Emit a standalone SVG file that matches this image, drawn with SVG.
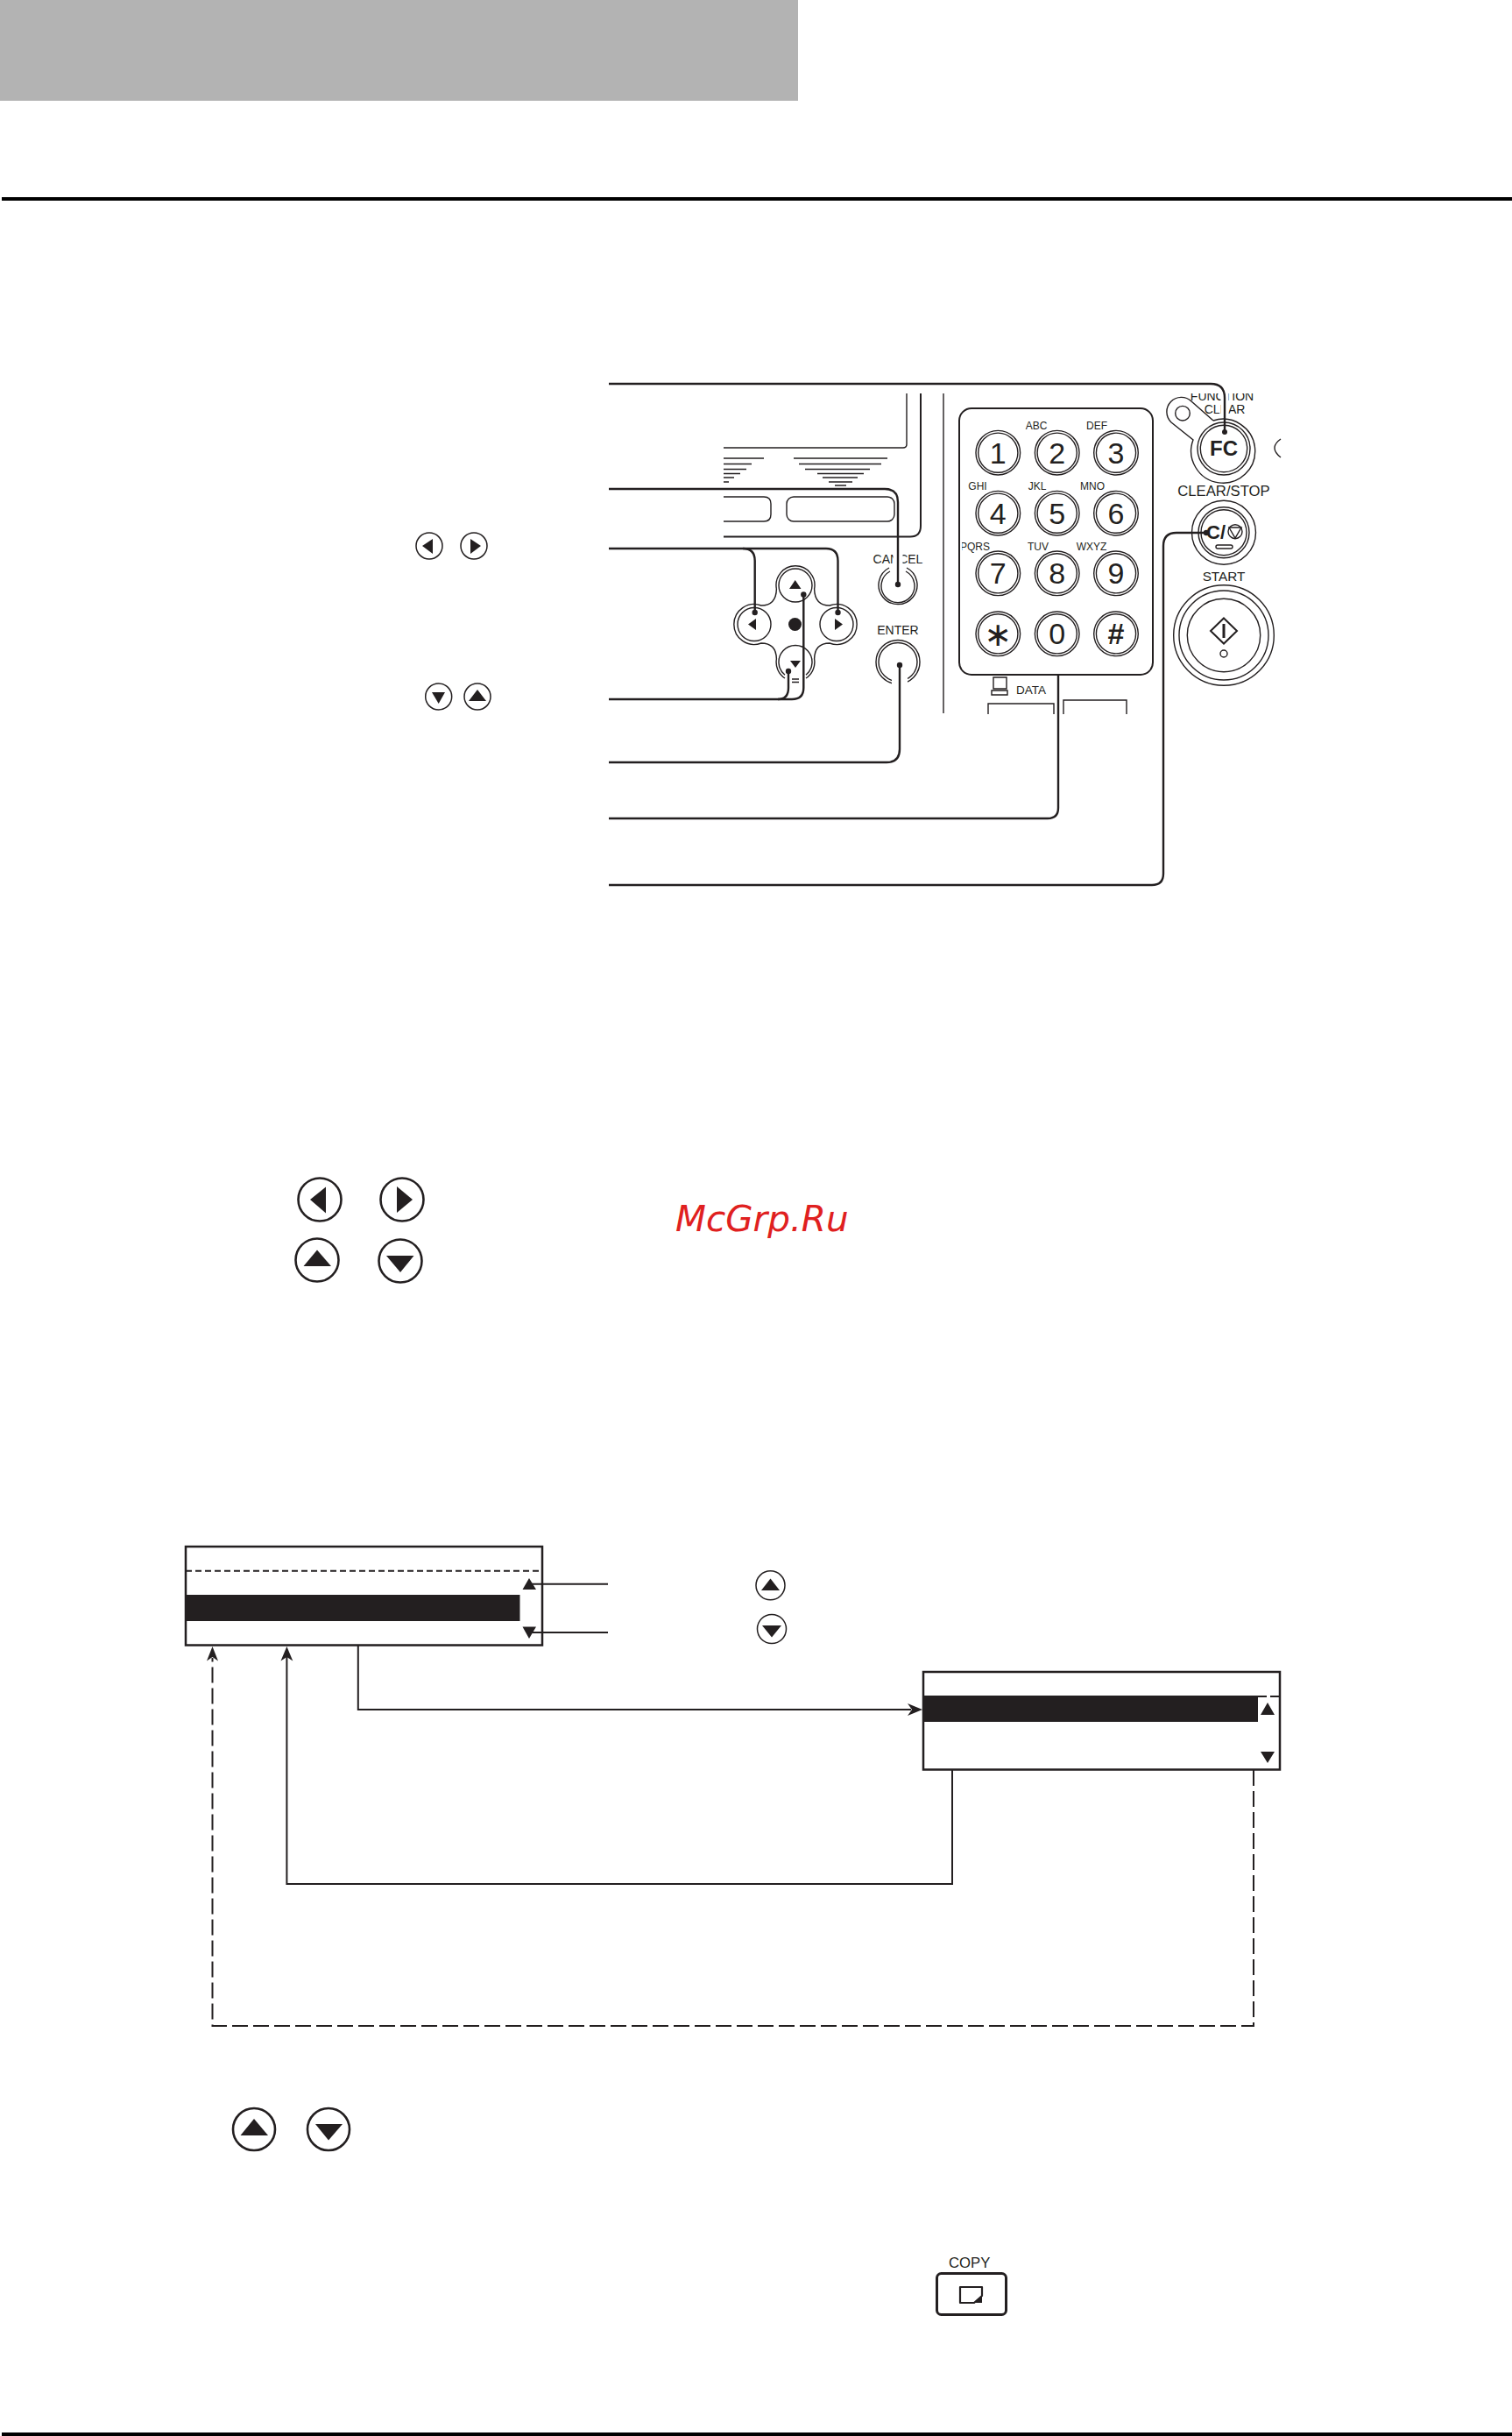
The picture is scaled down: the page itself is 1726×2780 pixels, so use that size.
<svg xmlns="http://www.w3.org/2000/svg" width="1726" height="2780" viewBox="0 0 1726 2780">
<style>
.l{fill:none;stroke:#231f20;stroke-width:2}
.t{fill:none;stroke:#231f20;stroke-width:1.4}
.c{fill:none;stroke:#231f20;stroke-width:2.4}
.f{fill:#231f20;stroke:none}
.o{fill:#fff;stroke:#231f20;stroke-width:1.5}
text{font-family:"Liberation Sans",Arial,sans-serif;fill:#231f20;text-anchor:middle}
.s{font-size:12px}
.d{font-size:34px}
.ic{fill:#fff;stroke:#231f20;stroke-width:2.6}
.dash{fill:none;stroke:#231f20;stroke-width:2;stroke-dasharray:18 6}
</style>
<defs>
<clipPath id="cpPqrs"><rect x="1098" y="600" width="60" height="40"/></clipPath>
<clipPath id="cpFn"><rect x="1340" y="449" width="120" height="30"/></clipPath>
<g id="key"><circle r="25.3" class="t"/><circle r="22.6" class="t"/></g>
</defs>
<rect id="header" x="0" y="0" width="911" height="115" fill="#b3b3b3"/>
<rect id="rule-top" x="2" y="225" width="1724" height="4" fill="#000"/>
<rect id="rule-bottom" x="2" y="2776" width="1724" height="4" fill="#000"/>

<g id="legend-lr">
<circle cx="490" cy="623" r="15" class="o"/><path class="f" d="M482 623L494 615V632Z"/>
<circle cx="541" cy="623" r="15" class="o"/><path class="f" d="M549 623L537 615V632Z"/>
</g>
<g id="legend-ud">
<circle cx="500.700" cy="795" r="15" class="o"/><path class="f" d="M493 790H508L500.700 803Z"/>
<circle cx="545" cy="795" r="15" class="o"/><path class="f" d="M545 787L555 800H535Z"/>
</g>

<g id="panel">
<path class="t" d="M1035 449V507Q1035 511 1031 511H826"/>
<path class="l" d="M1051 449V600Q1051 612.500 1039 612.500H826"/>
<path class="t" d="M1077 449V814"/>
<path class="t" d="M826 523H872M826 529.500H858M826 535.500H852M826 540.500H845M826 545H838M826 550H832"/>
<path class="t" d="M906 523H1013M912 529.500H1006M919 535.500H993M933 540.500H986M939 545H979M946 550H973M953 554H966"/>
<path class="t" d="M826 567H872Q880 567 880 575V587Q880 595 872 595H826"/>
<rect class="t" x="898" y="567" width="123" height="28" rx="8"/>
</g>

<g id="dpad">
<path class="t" d="M886.400 672A22 22 0 1 1 929.600 672Q930 691 947 691A23 23 0 1 1 947 734Q930 734 929.600 752A22 22 0 0 1 920 774M896 774A22 22 0 0 1 886.400 752Q886 734 869 734A23 23 0 1 1 869 691Q886 691 886.400 672"/>
<circle cx="908" cy="668" r="19" class="t"/>
<circle cx="861" cy="712.500" r="19" class="t"/>
<circle cx="955" cy="712.500" r="19" class="t"/>
<path class="t" d="M896 770.300A19 19 0 1 1 920 770.300"/>
<path class="t" d="M904 775H912M904 778.500H912"/>
<path class="f" d="M907.700 662L914.500 672H901ZM902 754H914L908 762ZM854 712.500L863 706V719ZM962 712.500L953 706V719Z"/>
<circle cx="907.500" cy="712.500" r="7.500" class="f"/>
</g>

<g id="cancel-key">
<text x="1025" y="643" style="font-size:14px">CANCEL</text>
<rect x="1019.500" y="628" width="11" height="18" fill="#fff"/>
<path class="t" d="M1015 648A22 22 0 1 0 1035 648"/>
<path class="t" d="M1016 652A19 19 0 1 0 1034 652"/>
</g>
<g id="enter-key">
<text x="1025" y="724" style="font-size:14px">ENTER</text>
<circle cx="1025" cy="755.500" r="25" class="t"/>
<circle cx="1025" cy="755.500" r="22" class="t"/>
<rect x="1018" y="770" width="18" height="14" fill="#fff"/>
</g>

<g id="keypad">
<rect x="1095" y="466" width="221" height="304" rx="14" class="l"/>
<use href="#key" x="1139.300" y="516.700"/><text class="d" x="1139.300" y="528.500">1</text>
<use href="#key" x="1206.700" y="516.700"/><text class="d" x="1206.700" y="528.500">2</text>
<use href="#key" x="1274" y="516.700"/><text class="d" x="1274" y="528.500">3</text>
<use href="#key" x="1139.300" y="585.700"/><text class="d" x="1139.300" y="597.500">4</text>
<use href="#key" x="1206.700" y="585.700"/><text class="d" x="1206.700" y="597.500">5</text>
<use href="#key" x="1274" y="585.700"/><text class="d" x="1274" y="597.500">6</text>
<use href="#key" x="1139.300" y="654.300"/><text class="d" x="1139.300" y="666">7</text>
<use href="#key" x="1206.700" y="654.300"/><text class="d" x="1206.700" y="666">8</text>
<use href="#key" x="1274" y="654.300"/><text class="d" x="1274" y="666">9</text>
<use href="#key" x="1139.300" y="723.300"/><text class="d" x="1139.300" y="737" style="font-size:38px;font-family:'DejaVu Sans',sans-serif">∗</text>
<use href="#key" x="1206.700" y="723.300"/><text class="d" x="1206.700" y="735">0</text>
<use href="#key" x="1274" y="723.300"/><text class="d" x="1274" y="735" style="font-weight:700">#</text>
<text class="s" x="1183" y="490">ABC</text><text class="s" x="1252" y="490">DEF</text>
<text class="s" x="1116" y="559">GHI</text><text class="s" x="1184" y="559">JKL</text><text class="s" x="1247" y="559">MNO</text>
<text class="s" x="1113" y="628" clip-path="url(#cpPqrs)">PQRS</text><text class="s" x="1185" y="628">TUV</text><text class="s" x="1246" y="628">WXYZ</text>
</g>

<g id="data-port">
<path class="t" d="M1134 773H1149V786H1134ZM1132 788H1150V793H1132Z"/>
<text x="1160" y="792" style="font-size:13.500px;text-anchor:start">DATA</text>
<path class="t" d="M1128 815V803H1203V815M1214 815V799H1286V815"/>
</g>

<g id="fc-key">
<text x="1395" y="457" style="font-size:14px" clip-path="url(#cpFn)">FUNCTION</text>
<text x="1398" y="472" style="font-size:14px">CLEAR</text>
<rect x="1393.500" y="449" width="9" height="24" fill="#fff"/>
<path class="t" d="M1385 480L1360 458A16.500 16.500 0 0 0 1337 482L1362 502A36.500 36.500 0 1 0 1385 480"/>
<circle cx="1350" cy="471.700" r="8.300" class="t"/>
<circle cx="1397" cy="512" r="30" class="t"/>
<circle cx="1397" cy="512" r="26.700" class="t"/>
<text x="1397" y="520" style="font-size:24px;font-weight:700">FC</text>
<path class="t" d="M1462 501Q1448 511 1462 522"/>
</g>
<g id="clear-key">
<text x="1397" y="566" style="font-size:16.700px">CLEAR/STOP</text>
<circle cx="1397" cy="607.700" r="36.500" class="t"/>
<circle cx="1397" cy="607.700" r="29" class="t"/>
<circle cx="1397" cy="607.700" r="26" class="t"/>
<text x="1377" y="615" style="font-size:22px;font-weight:700;text-anchor:start">C/</text>
<circle cx="1410" cy="606.700" r="8" class="t"/>
<path class="t" d="M1403 602H1417L1410 614Z"/>
<rect x="1388" y="622" width="19" height="4" rx="2" class="t"/>
</g>
<g id="start-key">
<text x="1397" y="663" style="font-size:15.300px">START</text>
<circle cx="1397" cy="725" r="57.300" class="t"/>
<circle cx="1397" cy="725" r="51" class="t"/>
<circle cx="1397" cy="725" r="41.700" class="t"/>
<path class="l" d="M1397 705.500L1412 720L1397 734.500L1382 720Z"/>
<line x1="1397" y1="712" x2="1397" y2="728" stroke="#231f20" stroke-width="3"/>
<circle cx="1397" cy="746" r="4" class="t"/>
</g>

<g id="leaders">
<path class="c" d="M695 438H1382Q1398 438 1398 454V493"/><circle class="f" cx="1398" cy="493" r="3"/>
<path class="c" d="M695 558H1010Q1025 558 1025 573V667"/><circle class="f" cx="1025" cy="667" r="3.200"/>
<path class="c" d="M695 626H848Q861.700 626 861.700 640V699"/><circle class="f" cx="861.700" cy="699" r="3.200"/>
<path class="c" d="M848 626H943Q956.500 626 956.500 640V699"/><circle class="f" cx="956.500" cy="699" r="3.200"/>
<path class="c" d="M695 798H904Q917.300 798 917.300 785V678.500"/><circle class="f" cx="917.300" cy="678.500" r="3.200"/>
<path class="c" d="M888 798Q900 798 900 785V766"/><circle class="f" cx="900" cy="766" r="3.200"/>
<path class="c" d="M695 870H1012Q1027 870 1027 855V759"/><circle class="f" cx="1027" cy="759" r="3.200"/>
<path class="c" d="M695 934H1196Q1208 934 1208 922V770"/>
<path class="c" d="M695 1010H1315Q1328 1010 1328 997V623Q1328 608 1343 608H1377"/><circle class="f" cx="1377" cy="608" r="3.200"/>
</g>

<g id="legend-big">
<circle cx="365" cy="1369" r="24.500" class="ic"/><path class="f" d="M354 1369L372 1354.500V1384.500Z"/>
<circle cx="459" cy="1369" r="24.500" class="ic"/><path class="f" d="M471 1369L453 1354V1384Z"/>
<circle cx="362" cy="1438" r="24.500" class="ic"/><path class="f" d="M362 1426.500L378 1445H346.500Z"/>
<circle cx="457" cy="1439" r="24.500" class="ic"/><path class="f" d="M441 1433H472.500L457 1452Z"/>
</g>
<text id="watermark" x="771" y="1405" style="font-family:'DejaVu Sans',sans-serif;font-size:40.500px;font-style:italic;fill:#e02020;text-anchor:start">McGrp.Ru</text>

<g id="screen-1">
<rect x="212" y="1765" width="407" height="112.500" fill="#fff" stroke="#231f20" stroke-width="2.500"/>
<line x1="212" y1="1792.700" x2="619" y2="1792.700" stroke="#231f20" stroke-width="2" stroke-dasharray="7 4"/>
<rect x="212" y="1820" width="381.500" height="30" class="f"/>
<path class="f" d="M604 1801L612 1814H596.500ZM596.500 1856.500H612L604 1870Z"/>
</g>
<g id="screen-2">
<rect x="1054" y="1908" width="407" height="111.500" fill="#fff" stroke="#231f20" stroke-width="2.500"/>
<rect x="1054" y="1935" width="382" height="30" class="f"/>
<path d="M1435 1936H1446M1450 1936H1461" stroke="#231f20" stroke-width="2"/>
<path class="f" d="M1447 1943L1455 1957H1439ZM1439 1999H1455L1447 2012Z"/>
</g>
<g id="legend-scroll">
<circle cx="879.500" cy="1809.300" r="16.500" class="o"/><path class="f" d="M879.500 1801.500L890 1815H869Z"/>
<circle cx="881" cy="1859" r="16.500" class="o"/><path class="f" d="M870 1855H892L881 1868.500Z"/>
</g>
<g id="legend-nav">
<circle cx="290" cy="2430" r="24" class="ic"/><path class="f" d="M290 2418L306 2437H274.500Z"/>
<circle cx="375" cy="2430" r="24" class="ic"/><path class="f" d="M360 2424H391L375 2442.500Z"/>
</g>
<g id="copy-key">
<text x="1106.700" y="2588" style="font-size:16.700px">COPY</text>
<rect x="1069.500" y="2594.500" width="79" height="47" rx="5" fill="none" stroke="#231f20" stroke-width="3"/>
<path d="M1096 2610H1121V2620L1112 2628H1096Z" fill="none" stroke="#231f20" stroke-width="2.200" stroke-linejoin="round"/>
<path class="f" d="M1121 2620V2628H1112Z"/>
</g>
<g id="connectors">
<path class="l" d="M604 1807.700H694M604 1863H694"/>
<path class="l" d="M408.800 1877V1951H1040"/>
<path class="f" d="M1053 1951L1036 1944L1041 1951L1036 1958Z"/>
<path class="l" d="M1087 2020V2150H327.400V1890"/>
<path class="f" d="M327.400 1879L320.500 1895.500L327.400 1891L334.300 1895.500Z"/>
<path class="dash" d="M1431 2020V2312H242.500V1892"/>
<path class="f" d="M242.500 1879L236 1895.500L242.500 1891L249 1895.500Z"/>
</g>
</svg>
